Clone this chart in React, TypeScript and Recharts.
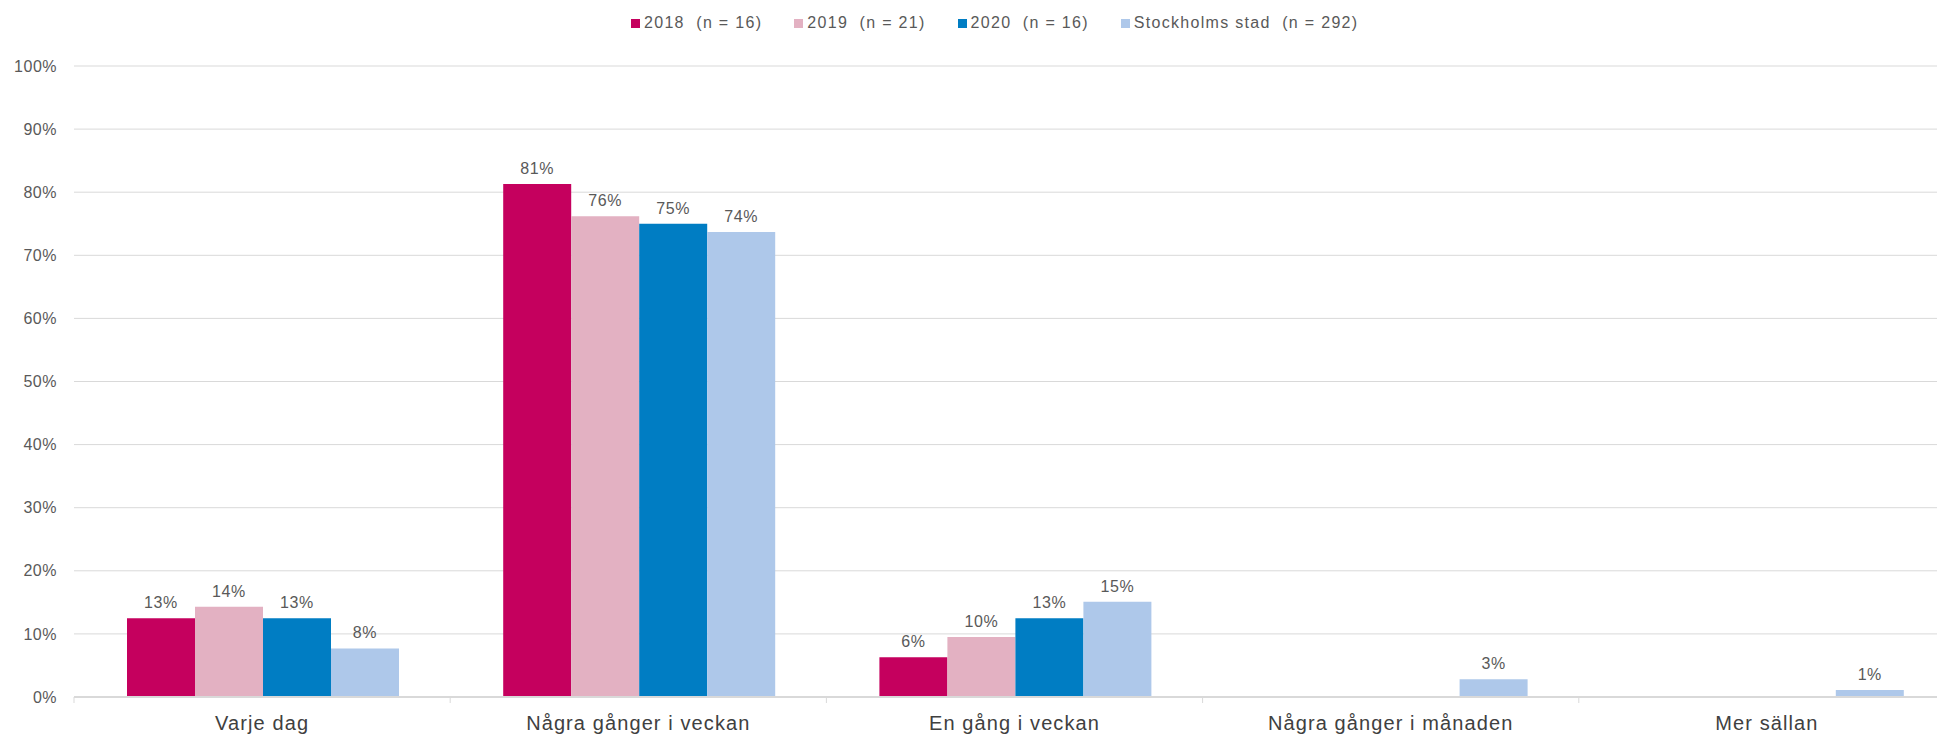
import React from 'react';
import { BarChart, Bar, XAxis, YAxis, CartesianGrid, Legend, LabelList } from 'recharts';

// Frequency categories on the x axis
const categories = [
  'Varje dag',
  'Några gånger i veckan',
  'En gång i veckan',
  'Några gånger i månaden',
  'Mer sällan',
];

// Share of respondents (%) per year / comparison group
const values2018 = [12.5, 81.3, 6.3, 0, 0];
const values2019 = [14.3, 76.2, 9.5, 0, 0];
const values2020 = [12.5, 75.0, 12.5, 0, 0];
const valuesStockholm = [7.7, 73.7, 15.1, 2.8, 1.1];

const seriesNames = ['2018  (n = 16)', '2019  (n = 21)', '2020  (n = 16)', 'Stockholms stad  (n = 292)'];
const yTicks = [0, 10, 20, 30, 40, 50, 60, 70, 80, 90, 100];

const COLORS = ['#C5005E', '#E3B1C2', '#007DC3', '#AEC8EA'];
const KEYS = ['y2018', 'y2019', 'y2020', 'sthlm'];

const data = categories.map((name, i) => ({
  name,
  y2018: values2018[i],
  y2019: values2019[i],
  y2020: values2020[i],
  sthlm: valuesStockholm[i],
}));

const FONT = '"Liberation Sans", Arial, sans-serif';
const CHART_W = 1955;
const CHART_H = 735;
const Y_AXIS_W = 74;
const BAND = (CHART_W - Y_AXIS_W) / categories.length;

// x tick: label under the category plus a small divider mark at the left band edge
const CategoryTick = ({ x, y, payload }: any) => (
  <g>
    <line x1={x - BAND / 2} x2={x - BAND / 2} y1={y} y2={y + 6} stroke="#D9D9D9" strokeWidth={1} />
    <text
      x={x}
      y={y + 33}
      textAnchor="middle"
      fill="#404040"
      fontSize={20}
      letterSpacing={1.1}
      fontFamily={FONT}
    >
      {payload.value}
    </text>
  </g>
);

// value label above each bar, hidden when the value is zero
const ValueLabel = ({ x, y, width, value }: any) => {
  if (!value) return null;
  return (
    <text
      x={x + width / 2}
      y={y - 10}
      textAnchor="middle"
      fill="#595959"
      fontSize={16}
      letterSpacing={0.6}
      fontFamily={FONT}
    >
      {`${Math.round(value)}%`}
    </text>
  );
};

const LegendContent = () => (
  <div
    style={{
      height: 66,
      boxSizing: 'border-box',
      paddingTop: 14,
      paddingLeft: 631,
      display: 'flex',
      alignItems: 'flex-start',
      fontFamily: FONT,
      fontSize: 16,
      letterSpacing: 1.3,
      color: '#595959',
    }}
  >
    <div style={{ display: 'flex', alignItems: 'center', height: 18 }}>
      {seriesNames.map((s, i) => (
        <span key={s} style={{ display: 'flex', alignItems: 'center', marginRight: 32 }}>
          <span style={{ width: 9, height: 9, background: COLORS[i], marginRight: 4, display: 'inline-block' }} />
          <span style={{ whiteSpace: 'pre' }}>{s}</span>
        </span>
      ))}
    </div>
  </div>
);

export default function App() {
  return (
    <div style={{ position: 'absolute', left: 0, top: 0, width: 1937, height: 735, overflow: 'hidden', background: '#fff' }}>
      <BarChart
        width={CHART_W}
        height={CHART_H}
        data={data}
        margin={{ top: 0, right: 0, bottom: 0, left: 0 }}
        barCategoryGap={53}
        barGap={0}
      >
        <Legend verticalAlign="top" align="left" content={<LegendContent />} />
        <CartesianGrid vertical={false} stroke="#D9D9D9" />
        <XAxis
          dataKey="name"
          height={38}
          tickLine={false}
          tickSize={0}
          tickMargin={0}
          axisLine={{ stroke: '#D9D9D9', strokeWidth: 2 }}
          tick={<CategoryTick />}
          interval={0}
        />
        <YAxis
          width={Y_AXIS_W}
          domain={[0, 100]}
          ticks={yTicks}
          axisLine={false}
          tickLine={false}
          tickMargin={11}
          tickFormatter={(v: number) => `${v}%`}
          tick={{ fill: '#595959', fontSize: 16, fontFamily: FONT, letterSpacing: 0.5 }}
        />
        {KEYS.map((k, i) => (
          <Bar key={k} dataKey={k} name={seriesNames[i]} fill={COLORS[i]} isAnimationActive={false}>
            <LabelList dataKey={k} content={<ValueLabel />} />
          </Bar>
        ))}
      </BarChart>
    </div>
  );
}
